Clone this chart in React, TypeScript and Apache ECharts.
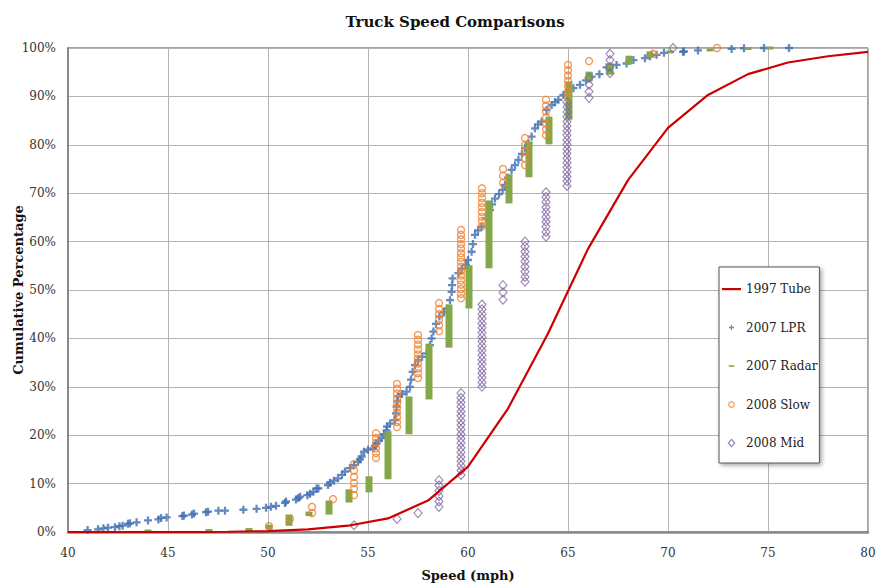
import React, { useEffect, useRef } from 'react';
import * as echarts from 'echarts';

// 1997 Tube (line)
const tubeSpeed = [40, 42, 44, 46, 48, 50, 52, 54, 56, 58, 60, 62, 64, 66, 68, 70, 72, 74, 76, 78, 80];
const tubePct = [0, 0, 0, 0, 0.05, 0.2, 0.55, 1.3, 2.8, 6.5, 13.5, 25.5, 41, 58.5, 72.7, 83.5, 90.3, 94.6, 97.0, 98.3, 99.2];

// 2007 LPR (individual vehicles, speed / cumulative %)
const lprPoints: [number, number][] = [
  [40.98, 0.4], [41.5, 0.55], [41.77, 0.75], [42.0, 0.9], [42.35, 1.0], [42.57, 1.2], [42.73, 1.3], [43.0, 1.7], [43.1, 1.8],
  [43.43, 2.0], [44.0, 2.4], [44.52, 2.6], [44.65, 2.9], [44.93, 3.0], [45.72, 3.3], [45.8, 3.4], [46.2, 3.6], [46.3, 3.8],
  [46.9, 4.1], [47.0, 4.2], [47.52, 4.4], [47.85, 4.4], [48.77, 4.6], [49.43, 4.8], [49.9, 5.0], [50.15, 5.2], [50.4, 5.4],
  [50.85, 6.0], [50.9, 6.3], [51.4, 6.7], [51.52, 7.0], [51.6, 7.3], [51.97, 7.6], [52.1, 7.9], [52.27, 8.3], [52.43, 9.0],
  [52.52, 9.0], [53.0, 9.7], [53.1, 10.2], [53.3, 10.6], [53.5, 11.1], [53.7, 11.8], [53.85, 12.5], [54.1, 13.2], [54.3, 13.8],
  [54.5, 14.5], [54.6, 15.0], [54.68, 15.6], [54.8, 16.6], [55.0, 17.0], [55.27, 17.3], [55.35, 17.8], [55.43, 18.3],
  [55.55, 18.9], [55.68, 19.4], [55.8, 20.2], [55.93, 21.0], [55.95, 21.8], [56.1, 22.4], [56.35, 23.1], [56.4, 24.5],
  [56.43, 25.9], [56.47, 27.0], [56.5, 28.0], [56.7, 28.5], [56.93, 29.0], [57.1, 30.0], [57.15, 31.5], [57.23, 33.1],
  [57.35, 34.5], [57.5, 35.5], [57.7, 36.2], [57.93, 36.9], [58.1, 38.6], [58.18, 40.0], [58.27, 41.4], [58.4, 43.0],
  [58.57, 44.5], [58.8, 45.4], [58.97, 46.2], [59.1, 47.9], [59.18, 49.6], [59.2, 51.0], [59.23, 52.4], [59.52, 53.5],
  [59.7, 54.4], [59.9, 55.2], [60.0, 56.2], [60.18, 57.9], [60.25, 59.5], [60.35, 61.4], [60.5, 62.3], [60.68, 63.1],
  [60.9, 64.8], [61.1, 66.5], [61.2, 67.7], [61.35, 68.9], [61.55, 69.8], [61.73, 70.7], [61.85, 71.7], [62.0, 73.2],
  [62.18, 74.8], [62.35, 75.8], [62.52, 76.9], [62.7, 78.1], [62.85, 79.3], [63.02, 80.3], [63.18, 81.7], [63.35, 83.4],
  [63.5, 84.2], [63.68, 84.8], [63.93, 87.2], [64.18, 88.2], [64.35, 88.8], [64.52, 89.3], [64.77, 90.3], [65.0, 91.0],
  [65.27, 91.7], [65.6, 92.4], [65.9, 93.3], [66.18, 94.1], [66.57, 94.6], [66.93, 96.0], [67.43, 96.5], [67.93, 96.8],
  [68.27, 97.5], [68.85, 97.9], [69.1, 98.3], [69.43, 98.6], [69.8, 99.0], [70.75, 99.2], [70.8, 99.3], [71.5, 99.5],
  [73.18, 99.8], [73.8, 99.95], [74.8, 100], [76.05, 100],
];

// 2007 Radar: speed, lowest %, highest % of each speed bin
const radarRanges: [number, number, number][] = [
  [44.0, 0.2, 0.2], [47.05, 0.3, 0.3], [49.05, 0.5, 0.5], [50.05, 0.8, 1.2], [51.05, 1.6, 3.3], [52.05, 3.6, 3.9],
  [53.05, 3.9, 6.2], [54.05, 6.4, 8.5], [55.05, 8.5, 11.2], [56.0, 11.2, 20.5], [57.05, 20.5, 27.7], [58.05, 27.7, 38.6],
  [59.05, 38.4, 46.7], [60.05, 46.5, 54.8], [61.05, 54.8, 68.2], [62.05, 68.2, 73.6], [63.05, 73.6, 80.4],
  [64.05, 80.4, 85.5], [65.05, 85.5, 92.8], [66.05, 93.4, 94.8], [67.1, 94.8, 96.5], [68.05, 96.9, 98.1],
  [69.1, 98.3, 99.0], [70.1, 99.2, 99.2], [72.1, 99.6, 99.6], [74.0, 99.9, 99.9], [75.1, 100, 100],
];

// 2008 Slow
const slowSpeeds = [50.05, 51.1, 52.2, 53.25, 54.3, 55.4, 56.45, 57.5, 58.55, 59.65, 60.7, 61.75, 62.85, 63.9, 65.0, 66.05, 69.25, 72.45];
const slowPcts = [
  [1.2], [2.7], [3.9, 5.2], [6.8],
  [7.6, 8.9, 10.1, 11.4, 12.7, 14.0],
  [15.3, 16.3, 17.3, 18.4, 19.4, 20.4],
  [21.7, 22.7, 23.7, 24.7, 25.7, 26.6, 27.6, 28.6, 29.6, 30.6],
  [31.8, 32.8, 33.8, 34.8, 35.8, 36.7, 37.7, 38.7, 39.7, 40.7],
  [41.5, 42.7, 43.8, 45.0, 46.1, 47.3],
  [48.3, 49.2, 50.2, 51.1, 52.0, 53.0, 53.9, 54.8, 55.8, 56.7, 57.6, 58.6, 59.5, 60.5, 61.4, 62.4],
  [63.2, 64.2, 65.1, 66.1, 67.1, 68.0, 69.0, 70.0, 71.0],
  [72.1, 73.6, 75.0],
  [75.8, 77.2, 78.6, 80.0, 81.4],
  [82.0, 83.2, 84.4, 85.6, 86.9, 88.1, 89.3],
  [89.9, 91.0, 92.1, 93.2, 94.3, 95.4, 96.5],
  [97.3], [98.8], [100],
];

// 2008 Mid
const midSpeeds = [54.3, 56.45, 57.5, 58.55, 59.65, 60.7, 61.75, 62.85, 63.9, 64.95, 66.05, 67.1, 70.25];
const midPcts = [
  [1.4], [2.7], [3.9],
  [5.2, 6.3, 7.4, 8.5, 9.6, 10.7],
  [11.8, 12.7, 13.7, 14.6, 15.5, 16.5, 17.4, 18.4, 19.3, 20.2, 21.2, 22.1, 23.0, 24.0, 24.9, 25.9, 26.8, 27.7, 28.7],
  [30.0, 30.9, 31.9, 32.8, 33.7, 34.7, 35.6, 36.5, 37.5, 38.4, 39.4, 40.3, 41.2, 42.2, 43.1, 44.1, 45.0, 46.0, 47.0],
  [48.0, 49.5, 51.0],
  [51.7, 52.7, 53.8, 54.8, 55.9, 56.9, 57.9, 59.0, 60.0],
  [61.0, 62.0, 63.1, 64.1, 65.1, 66.1, 67.1, 68.2, 69.2, 70.2],
  [71.5, 72.5, 73.4, 74.4, 75.3, 76.3, 77.2, 78.2, 79.1, 80.1, 81.0, 82.0, 82.9, 83.9, 84.8, 85.8, 86.8, 87.8, 88.8],
  [89.7, 91.0, 92.4, 93.8],
  [94.8, 96.1, 97.5, 98.8],
  [100],
];

const xTicks = { min: 40, max: 80, interval: 5 };
const yTicks = { min: 0, max: 100, interval: 10 };

const FONT = "'DejaVu Serif', serif";

const flatten = (speeds: number[], pcts: number[][]) => {
  const out: [number, number][] = [];
  speeds.forEach((s, i) => pcts[i].forEach((p) => out.push([s, p])));
  return out;
};

const CROSS = 'path://M3,0h2.4v3h3v2.4h-3v3h-2.4v-3h-3v-2.4h3z';

export default function App() {
  const ref = useRef<HTMLDivElement>(null);
  useEffect(() => {
    if (!ref.current) return;
    const chart = echarts.init(ref.current, undefined, { renderer: 'svg' });
    chart.setOption({
      animation: false,
      backgroundColor: '#fff',
      title: {
        text: 'Truck Speed Comparisons',
        left: 450,
        top: 9,
        textAlign: 'center',
        textStyle: { fontFamily: FONT, fontSize: 15, fontWeight: 'bold', color: '#111' },
      },
      legend: {
        orient: 'vertical',
        left: 719,
        top: 267,
        padding: [16, 2, 14, 3],
        itemGap: 26.5,
        itemWidth: 19,
        itemHeight: 8,
        backgroundColor: '#fff',
        borderColor: '#555',
        borderWidth: 1,
        shadowBlur: 4,
        shadowColor: 'rgba(0,0,0,0.35)',
        shadowOffsetX: 2,
        shadowOffsetY: 2,
        itemStyle: { borderWidth: 1.2 },
        textStyle: { fontFamily: FONT, fontSize: 12, color: '#222' },
        data: [
          { name: '1997 Tube', icon: 'path://M0,0M19,8M0,3h19v2.2h-19z' },
          { name: '2007 LPR', icon: 'path://M0,0M10,10M4.2,2h1.6v2.2h2.2v1.6h-2.2v2.2h-1.6v-2.2h-2.2v-1.6h2.2z' },
          { name: '2007 Radar', icon: 'path://M0,0M10,10M1.5,4h7v2h-7z' },
          { name: '2008 Slow', icon: 'path://M0,0M10,10M5,1.5A3.5,3.5 0 1,1 4.99,1.5z' },
          { name: '2008 Mid', icon: 'path://M0,0M10,10M5,0.5L9,5L5,9.5L1,5z' },
        ],
      },
      grid: {
        left: 68,
        right: 9,
        top: 48,
        bottom: 55,
        show: true,
        borderColor: '#444',
        borderWidth: 1,
        outerBoundsMode: 'none',
        containLabel: false,
      },
      xAxis: {
        type: 'value',
        ...xTicks,
        name: 'Speed (mph)',
        nameLocation: 'middle',
        nameGap: 37,
        nameMoveOverlap: false,
        nameTextStyle: { fontFamily: FONT, fontSize: 13, fontWeight: 'bold', color: '#111' },
        axisLine: { show: true, lineStyle: { color: '#8a8a8a', width: 2.5 } },
        axisTick: { show: false },
        axisLabel: { margin: 15, fontFamily: FONT, fontSize: 12, color: '#333' },
        splitLine: { show: true, lineStyle: { color: '#b4b4b4', width: 1 } },
      },
      yAxis: {
        type: 'value',
        ...yTicks,
        name: 'Cumulative Percentage',
        nameLocation: 'middle',
        nameGap: 43,
        nameMoveOverlap: false,
        nameTextStyle: { fontFamily: FONT, fontSize: 13, fontWeight: 'bold', color: '#111' },
        axisLine: { show: true, lineStyle: { color: '#8a8a8a', width: 2 } },
        axisTick: { show: false },
        axisLabel: { margin: 12, fontFamily: FONT, fontSize: 12, color: '#333', formatter: '{value}%' },
        splitLine: { show: true, lineStyle: { color: '#b4b4b4', width: 1 } },
      },
      series: [
        {
          name: '1997 Tube',
          type: 'line',
          data: tubeSpeed.map((s, i) => [s, tubePct[i]]),
          symbol: 'none',
          z: 10,
          lineStyle: { color: '#CC0000', width: 2.2 },
          itemStyle: { color: '#CC0000' },
        },
        {
          name: '2007 LPR',
          type: 'scatter',
          data: lprPoints,
          symbol: CROSS,
          symbolSize: 8,
          z: 3,
          itemStyle: { color: '#3F6DB0' },
        },
        {
          name: '2007 Radar',
          type: 'custom',
          data: radarRanges,
          encode: { x: 0, y: [1, 2] },
          z: 4,
          itemStyle: { color: '#82A84A' },
          renderItem: (params: any, api: any) => {
            const x = api.value(0);
            const lo = api.value(1);
            const hi = api.value(2);
            const pHi = api.coord([x, hi]);
            const pLo = api.coord([x, lo]);
            const w = 7;
            const h = Math.max(pLo[1] - pHi[1], 0) + 3;
            return {
              type: 'rect',
              shape: { x: pHi[0] - w / 2, y: pHi[1] - 1.5, width: w, height: h },
              style: { fill: '#82A84A' },
            };
          },
        },
        {
          name: '2008 Slow',
          type: 'scatter',
          data: flatten(slowSpeeds, slowPcts),
          symbol: 'circle',
          symbolSize: 7,
          z: 5,
          itemStyle: { color: 'rgba(255,255,255,0)', borderColor: '#F0822E', borderWidth: 1.4 },
        },
        {
          name: '2008 Mid',
          type: 'scatter',
          data: flatten(midSpeeds, midPcts),
          symbol: 'diamond',
          symbolSize: [8, 9],
          z: 6,
          itemStyle: { color: 'rgba(255,255,255,0)', borderColor: '#7E66A0', borderWidth: 1.1 },
        },
      ],
    });
    return () => chart.dispose();
  }, []);
  return <div ref={ref} style={{ position: 'fixed', left: 0, top: 0, width: 877, height: 587 }} />;
}
